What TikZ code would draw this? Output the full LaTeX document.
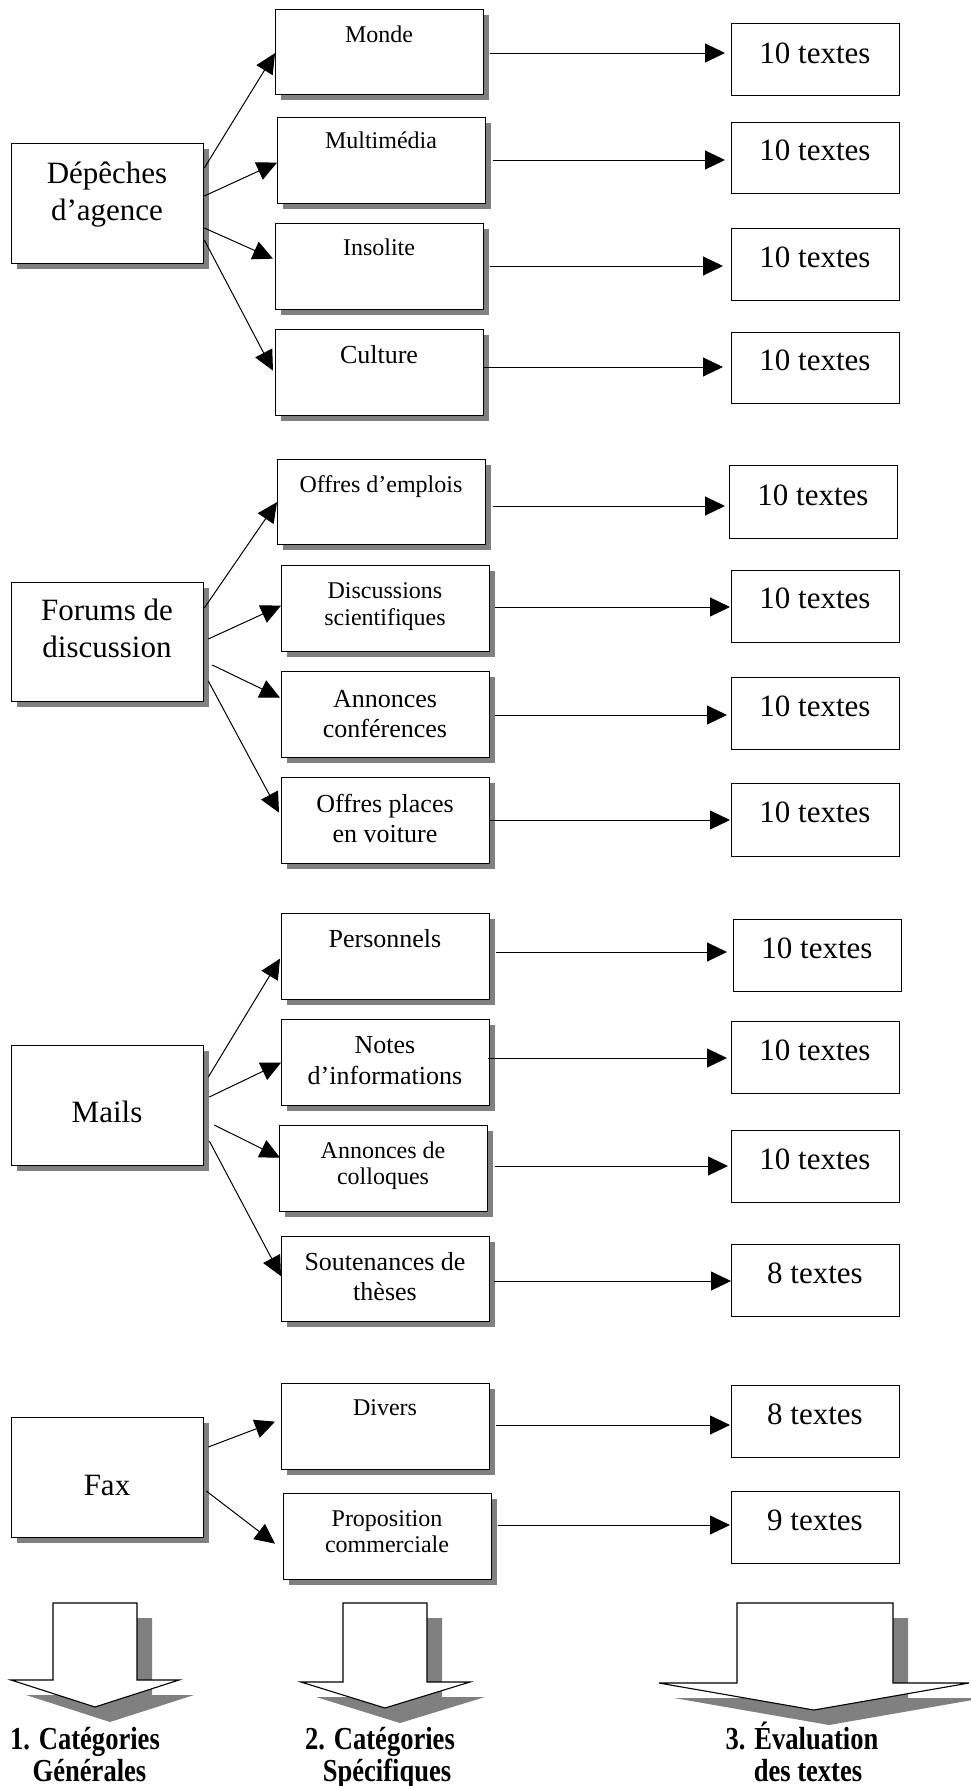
\documentclass[tikz,border=0pt]{standalone}
\usepackage{fontspec}
\setmainfont{Liberation Serif}
\newfontfamily\labfont[FakeStretch=0.83]{Liberation Serif}
\usetikzlibrary{arrows.meta,shadows,calc}
\definecolor{shd}{HTML}{808080}
\newcommand{\mlines}[1]{\begin{tabular}[t]{@{}c@{}}#1\end{tabular}}
\tikzset{
  sbox/.style={draw=black, line width=1.3pt, fill=white, inner sep=0pt, anchor=north west,
    drop shadow={shadow xshift=5pt, shadow yshift=-5pt, opacity=1, fill=shd}},
  bigbox/.style={sbox, minimum width=192pt, minimum height=120pt},
  midbox/.style={sbox, minimum width=208pt, minimum height=86pt},
  numbox/.style={draw=black, line width=1.1pt, fill=white, inner sep=0pt, anchor=north west,
    minimum width=168pt, minimum height=72pt},
  conn/.style={line width=1pt, -{Triangle[length=20pt,width=19pt]}},
  bigtxt/.style={font=\fontsize{31}{37}\selectfont, anchor=base, inner sep=0pt},
  midtxt/.style={font=\fontsize{24}{27}\selectfont, anchor=base, inner sep=0pt},
  midtxtb/.style={font=\fontsize{26}{30}\selectfont, anchor=base, inner sep=0pt},
  numtxt/.style={font=\fontsize{31}{36}\selectfont, anchor=base, inner sep=0pt},
  labtxt/.style={font=\labfont\bfseries\fontsize{32}{36}\selectfont, anchor=base, inner sep=0pt},
  barrow/.style={draw=black, line width=1.1pt, fill=white, line join=miter},
  bshadow/.style={fill=shd, shift={(15,15)}}
}
\begin{document}
\begin{tikzpicture}[x=1pt,y=-1pt]
\useasboundingbox (0,0) rectangle (971,1786);

% ---------- Section 1 : Dépêches d'agence ----------
\node[bigbox] (dep) at (11,143) {};
\node[bigtxt] (dept) at (107,183) {\mlines{Dépêches\\d’agence}};

\node[midbox, minimum height=85pt] (monde) at (275,9) {};
\node[midtxt] (mondet) at (379,42) {Monde};
\node[midbox] (multi) at (277,117) {};
\node[midtxt] (multit) at (381,148) {Multimédia};
\node[midbox] (insol) at (275,223) {};
\node[midtxt] (insolt) at (379,255) {Insolite};
\node[midbox] (cult) at (275,329) {};
\node[midtxtb] (cultt) at (379,363) {Culture};

\node[numbox] (n1) at (731,23) {};
\node[numtxt] (n1t) at (815,63) {10 textes};
\node[numbox, minimum height=71pt] (n2) at (731,122) {};
\node[numtxt] (n2t) at (815,160) {10 textes};
\node[numbox] (n3) at (731,228) {};
\node[numtxt] (n3t) at (815,267) {10 textes};
\node[numbox, minimum height=71pt] (n4) at (731,332) {};
\node[numtxt] (n4t) at (815,370) {10 textes};

\draw[conn] ($(dep.north east)+(0,25)$) -- ($(monde.west)+(0,1)$);
\draw[conn] ($(dep.north east)+(0,53)$) -- ($(multi.west)+(0,2)$);
\draw[conn] ($(dep.north east)+(0,85)$) -- ($(insol.west)+(-2,-8)$);
\draw[conn] ($(dep.north east)+(0,97)$) -- ($(cult.west)+(-2,-2)$);

\draw[conn] ($(monde.east |- 0,53)+(6,0)$) -- ($(n1.west |- 0,53)+(-6,0)$);
\draw[conn] ($(multi.east |- 0,160)+(7,0)$) -- ($(n2.west |- 0,160)+(-6,0)$);
\draw[conn] ($(insol.east |- 0,266)+(6,0)$) -- ($(n3.west |- 0,266)+(-8,0)$);
\draw[conn] (cult.east |- 0,367) -- ($(n4.west |- 0,367)+(-8,0)$);

% ---------- Section 2 : Forums de discussion ----------
\node[bigbox, minimum height=119pt] (forums) at (11,582) {};
\node[bigtxt] (forumst) at (107,620) {\mlines{Forums de\\discussion}};

\node[midbox, minimum height=85pt] (emploi) at (277,459) {};
\node[midtxt] (emploit) at (381,492) {Offres d’emplois};
\node[midbox] (disc) at (281,565) {};
\node[midtxt] (disct) at (385,598) {\mlines{Discussions\\scientifiques}};
\node[midbox] (annc) at (281,671) {};
\node[midtxtb] (annct) at (385,707) {\mlines{Annonces\\conférences}};
\node[midbox] (places) at (281,777) {};
\node[midtxtb] (placest) at (385,812) {\mlines{Offres places\\en voiture}};

\node[numbox, minimum height=73pt] (n5) at (729,465) {};
\node[numtxt] (n5t) at (813,505) {10 textes};
\node[numbox] (n6) at (731,570) {};
\node[numtxt] (n6t) at (815,608) {10 textes};
\node[numbox] (n7) at (731,677) {};
\node[numtxt] (n7t) at (815,716) {10 textes};
\node[numbox, minimum height=73pt] (n8) at (731,783) {};
\node[numtxt] (n8t) at (815,822) {10 textes};

\draw[conn] ($(forums.north east)+(0,26)$) -- (emploi.west);
\draw[conn] ($(forums.north east)+(4,57)$) -- ($(disc.west)+(0,-3)$);
\draw[conn] ($(forums.north east)+(8,83)$) -- ($(annc.west)+(-1,-17)$);
\draw[conn] ($(forums.north east)+(4,99)$) -- ($(places.west)+(-2,-8)$);

\draw[conn] ($(emploi.east |- 0,506)+(7,0)$) -- ($(n5.west |- 0,506)+(-4,0)$);
\draw[conn] ($(disc.east |- 0,607)+(5,0)$) -- ($(n6.west |- 0,607)+(-1,0)$);
\draw[conn] ($(annc.east |- 0,715)+(5,0)$) -- ($(n7.west |- 0,715)+(-4,0)$);
\draw[conn] (places.east |- 0,820) -- ($(n8.west |- 0,820)+(-1,0)$);

% ---------- Section 3 : Mails ----------
\node[bigbox] (mails) at (11,1045) {};
\node[bigtxt] (mailst) at (107,1122) {Mails};

\node[midbox] (pers) at (281,913) {};
\node[midtxtb] (perst) at (385,947) {Personnels};
\node[midbox] (notes) at (281,1019) {};
\node[midtxtb, font=\fontsize{26}{31}\selectfont] (notest) at (385,1053) {\mlines{Notes\\d’informations}};
\node[midbox] (colloq) at (279,1125) {};
\node[midtxt, font=\fontsize{24}{26}\selectfont] (colloqt) at (383,1158) {\mlines{Annonces de\\colloques}};
\node[midbox, minimum height=85pt] (sout) at (281,1236) {};
\node[midtxtb] (soutt) at (385,1270) {\mlines{Soutenances de\\thèses}};

\node[numbox] (n9) at (733,919) {};
\node[numtxt] (n9t) at (817,958) {10 textes};
\node[numbox] (n10) at (731,1021) {};
\node[numtxt] (n10t) at (815,1060) {10 textes};
\node[numbox] (n11) at (731,1130) {};
\node[numtxt] (n11t) at (815,1169) {10 textes};
\node[numbox] (n12) at (731,1244) {};
\node[numtxt] (n12t) at (815,1283) {8 textes};

\draw[conn] ($(mails.north east)+(4,32)$) -- ($(pers.west)+(-1,2)$);
\draw[conn] ($(mails.north east)+(5,52)$) -- (notes.west);
\draw[conn] ($(mails.north east)+(10,80)$) -- ($(colloq.west)+(1,-11)$);
\draw[conn] ($(mails.north east)+(5,96)$) -- ($(sout.west)+(0,-3)$);

\draw[conn] ($(pers.east |- 0,952)+(6,0)$) -- ($(n9.west |- 0,952)+(-6,0)$);
\draw[conn] ($(notes.east |- 0,1058)+(-2,0)$) -- ($(n10.west |- 0,1058)+(-4,0)$);
\draw[conn] ($(colloq.east |- 0,1166)+(7,0)$) -- ($(n11.west |- 0,1166)+(-3,0)$);
\draw[conn] ($(sout.east |- 0,1281)+(4,0)$) -- (n12.west |- 0,1281);

% ---------- Section 4 : Fax ----------
\node[bigbox] (fax) at (11,1417) {};
\node[bigtxt] (faxt) at (107,1495) {Fax};

\node[midbox] (divers) at (281,1383) {};
\node[midtxt] (diverst) at (385,1415) {Divers};
\node[midbox] (prop) at (283,1493) {};
\node[midtxt, font=\fontsize{24}{26}\selectfont] (propt) at (387,1526) {\mlines{Proposition\\commerciale}};

\node[numbox] (n13) at (731,1385) {};
\node[numtxt] (n13t) at (815,1424) {8 textes};
\node[numbox] (n14) at (731,1491) {};
\node[numtxt] (n14t) at (815,1530) {9 textes};

\draw[conn] ($(fax.north east)+(4,30)$) -- ($(divers.west)+(-6,-5)$);
\draw[conn] ($(fax.north east)+(2,74)$) -- ($(prop.west)+(-8,7)$);

\draw[conn] ($(divers.east |- 0,1425)+(6,0)$) -- ($(n13.west |- 0,1425)+(-1,0)$);
\draw[conn] ($(prop.east |- 0,1525)+(6,0)$) -- ($(n14.west |- 0,1525)+(-1,0)$);

% ---------- Block arrows ----------
\fill[bshadow] (53,1603) -- (137,1603) -- (137,1680) -- (179,1680) -- (95,1707) -- (11,1680) -- (53,1680) -- cycle;
\draw[barrow] (53,1603) -- (137,1603) -- (137,1680) -- (179,1680) -- (95,1707) -- (11,1680) -- (53,1680) -- cycle;

\fill[bshadow] (343,1603) -- (427,1603) -- (427,1682) -- (470,1682) -- (385,1708) -- (301,1682) -- (343,1682) -- cycle;
\draw[barrow] (343,1603) -- (427,1603) -- (427,1682) -- (470,1682) -- (385,1708) -- (301,1682) -- (343,1682) -- cycle;

\fill[bshadow] (737,1603) -- (893,1603) -- (893,1683) -- (969,1683) -- (814,1710) -- (659,1683) -- (737,1683) -- cycle;
\draw[barrow] (737,1603) -- (893,1603) -- (893,1683) -- (969,1683) -- (814,1710) -- (659,1683) -- (737,1683) -- cycle;

\node[labtxt] (l1a) at (85,1749) {1. Catégories};
\node[labtxt] (l1b) at (89.5,1781) {Générales};
\node[labtxt] (l2a) at (380,1749) {2. Catégories};
\node[labtxt] (l2b) at (387,1781) {Spécifiques};
\node[labtxt] (l3a) at (802,1749) {3. Évaluation};
\node[labtxt] (l3b) at (808,1781) {des textes};
\end{tikzpicture}
\end{document}
